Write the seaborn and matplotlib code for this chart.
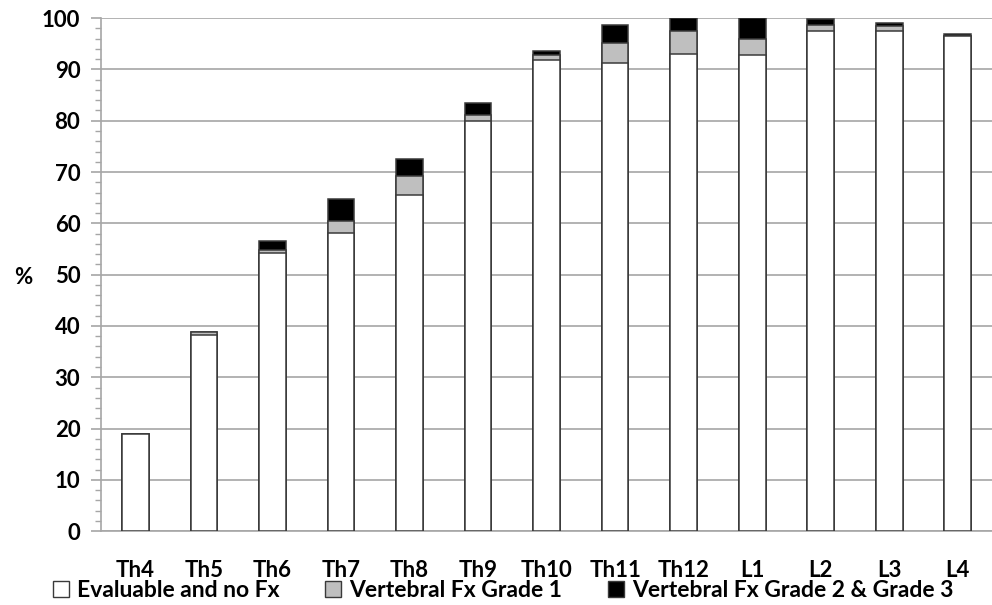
import pandas as pd
import seaborn as sns
import matplotlib.pyplot as plt
from matplotlib.patches import Patch
from matplotlib.ticker import MultipleLocator

# values (percent)
vertebrae = ["Th4", "Th5", "Th6", "Th7", "Th8", "Th9", "Th10", "Th11", "Th12", "L1", "L2", "L3", "L4"]
no_fx = [18.9, 38.3, 54.2, 58.2, 65.6, 79.9, 91.8, 91.2, 93.1, 92.8, 97.5, 97.5, 96.6]
fx_grade1 = [0.0, 0.6, 0.7, 2.2, 3.6, 1.3, 1.0, 4.0, 4.3, 3.2, 1.1, 0.9, 0.0]
fx_grade23 = [0.0, 0.0, 1.7, 4.4, 3.3, 2.3, 0.8, 3.4, 2.6, 4.0, 1.3, 0.6, 0.3]

labels = ["Evaluable and no Fx", "Vertebral Fx Grade 1", "Vertebral Fx Grade 2 & Grade 3"]
colors = ["white", "#bfbfbf", "black"]

df = pd.DataFrame({"vert": vertebrae, "no_fx": no_fx, "g1": fx_grade1, "g23": fx_grade23})
df["top1"] = df["no_fx"] + df["g1"]
df["top2"] = df["top1"] + df["g23"]

sns.set_style("white")
plt.rcParams["font.family"] = ["Lato", "DejaVu Sans"]
plt.rcParams["font.weight"] = "bold"
plt.rcParams["text.color"] = "black"
plt.rcParams["xtick.color"] = "black"
plt.rcParams["ytick.color"] = "black"
plt.rcParams["axes.labelcolor"] = "black"

fig = plt.figure(figsize=(9.92, 6.05), dpi=100)
ax = fig.add_axes([0.102, 0.122, 0.898, 0.848])

# stacked look: draw cumulative heights from tallest to shortest
edge = "#3a3a3a"
for col, c in zip(["top2", "top1", "no_fx"], colors[::-1]):
    sns.barplot(data=df, x="vert", y=col, color=c, width=0.39, edgecolor=edge,
                linewidth=1.1, saturation=1, ax=ax, zorder=3)

ax.set_ylim(0, 100)
ax.set_xlim(-0.5, len(vertebrae) - 0.5)
ax.yaxis.set_major_locator(MultipleLocator(10))
ax.yaxis.set_minor_locator(MultipleLocator(2))
ax.grid(axis="y", color="#a6a6a6", linewidth=1.2, zorder=0)
ax.set_axisbelow(True)

for s in ["top", "right"]:
    ax.spines[s].set_visible(False)
for s in ["left", "bottom"]:
    ax.spines[s].set_color("#a6a6a6")
    ax.spines[s].set_linewidth(1.2)

ax.tick_params(axis="y", which="major", left=True, length=7, width=1.2, color="#a6a6a6",
               labelcolor="black", labelsize=16, pad=8)
ax.tick_params(axis="y", which="minor", left=True, length=4, width=1.0, color="#a6a6a6")
ax.tick_params(axis="x", bottom=False, labelcolor="black", labelsize=16, pad=17)
for t in ax.get_xticklabels() + ax.get_yticklabels():
    t.set_fontweight("bold")

ax.set_xlabel("")
ax.set_ylabel("%", rotation=0, fontsize=16, fontweight="bold", va="center", ha="center")
ax.yaxis.set_label_coords(-0.088, 0.495)

handles = [Patch(facecolor=c, edgecolor=edge, linewidth=1.0) for c in colors]
leg = fig.legend(handles, labels, loc="lower center", bbox_to_anchor=(0.507, -0.028), ncol=3,
                 frameon=False, fontsize=16.5, handlelength=0.7, handleheight=0.7,
                 handletextpad=0.35, columnspacing=2.0)
for t in leg.get_texts():
    t.set_fontweight("bold")
    t.set_color("black")

fig.savefig("out.png", dpi=100)
